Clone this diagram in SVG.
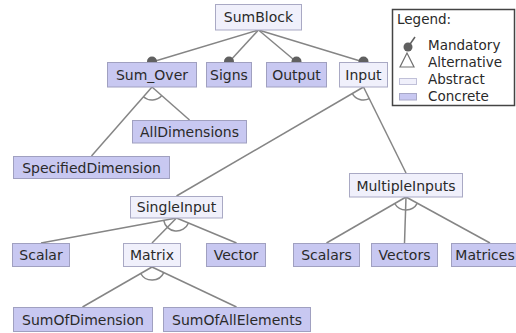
<svg xmlns="http://www.w3.org/2000/svg" width="516" height="333" viewBox="0 0 516 333">
<style>
  .abs rect{fill:#f0f0fb;stroke:#a9a9c4;stroke-width:1}
  .con rect{fill:#c8c8f1;stroke:#a0a0c0;stroke-width:1}
  text{font-family:"DejaVu Sans",Verdana,sans-serif;font-size:14px;fill:#2a2a2a;text-anchor:middle}
  .conn line,.conn path{stroke:#858585;stroke-width:1.5;fill:none}
  .dot{fill:#606060}
  .leg text{font-size:13.5px;text-anchor:start}
</style>
<rect width="516" height="333" fill="#ffffff"/>
<g class="conn" id="connectors">
  <line x1="258.5" y1="30" x2="152" y2="62"/>
  <line x1="258.5" y1="30" x2="229" y2="62"/>
  <line x1="258.5" y1="30" x2="296.5" y2="62"/>
  <line x1="258.5" y1="30" x2="363.5" y2="62"/>
  <circle class="dot" cx="152" cy="61.5" r="5"/>
  <circle class="dot" cx="229" cy="61.5" r="5"/>
  <circle class="dot" cx="296.5" cy="61.5" r="5"/>
  <circle class="dot" cx="363.5" cy="61.5" r="5"/>
  <line x1="152" y1="87" x2="91.5" y2="156"/>
  <line x1="152" y1="87" x2="189.5" y2="120"/>
  <path d="M143.4,96.8 A13,13 0 0 0 161.8,95.6"/>
  <line x1="363.5" y1="87" x2="176.5" y2="196"/>
  <line x1="363.5" y1="87" x2="406" y2="173"/>
  <path d="M352.3,93.6 A13,13 0 0 0 369.3,98.7"/>
  <line x1="176.5" y1="218" x2="41" y2="243"/>
  <line x1="176.5" y1="218" x2="152" y2="243"/>
  <line x1="176.5" y1="218" x2="236.5" y2="243"/>
  <path d="M163.7,220.4 A13,13 0 0 0 188.5,223"/>
  <line x1="406" y1="197" x2="326.5" y2="243"/>
  <line x1="406" y1="197" x2="404.5" y2="243"/>
  <line x1="406" y1="197" x2="490" y2="243"/>
  <path d="M394.7,203.5 A13,13 0 0 0 417.4,203.2"/>
  <line x1="152" y1="267" x2="82.5" y2="307"/>
  <line x1="152" y1="267" x2="236.5" y2="307"/>
  <path d="M140.7,273.5 A13,13 0 0 0 163.8,272.6"/>
</g>
<g id="SumBlock" class="abs"><rect x="215.5" y="4.5" width="86" height="25.5"/><text x="258.5" y="22">SumBlock</text></g>
<g id="Sum_Over" class="con"><rect x="107.5" y="62.5" width="89" height="24.5"/><text x="152" y="80">Sum_Over</text></g>
<g id="Signs" class="con"><rect x="206.5" y="62.5" width="45" height="24.5"/><text x="229" y="80">Signs</text></g>
<g id="Output" class="con"><rect x="266.5" y="62.5" width="60" height="24.5"/><text x="296.5" y="80">Output</text></g>
<g id="Input" class="abs"><rect x="339.5" y="62.5" width="48" height="24.5"/><text x="363.5" y="80">Input</text></g>
<g id="AllDimensions" class="con"><rect x="132.5" y="120.5" width="114" height="22.5"/><text x="189.5" y="137">AllDimensions</text></g>
<g id="SpecifiedDimension" class="con"><rect x="13.5" y="156.5" width="156" height="22"/><text x="91.5" y="172.5">SpecifiedDimension</text></g>
<g id="SingleInput" class="abs"><rect x="130.5" y="196.5" width="92" height="21.5"/><text x="176.5" y="212">SingleInput</text></g>
<g id="MultipleInputs" class="abs"><rect x="349.5" y="173.5" width="113" height="23.5"/><text x="406" y="190.5">MultipleInputs</text></g>
<g id="Scalar" class="con"><rect x="12.5" y="243.5" width="57" height="23"/><text x="41" y="260">Scalar</text></g>
<g id="Matrix" class="abs"><rect x="123.5" y="243.5" width="57" height="23"/><text x="152" y="260">Matrix</text></g>
<g id="Vector" class="con"><rect x="206.5" y="243.5" width="59" height="23"/><text x="236" y="260">Vector</text></g>
<g id="Scalars" class="con"><rect x="293.5" y="243.5" width="66" height="23"/><text x="326.5" y="260">Scalars</text></g>
<g id="Vectors" class="con"><rect x="371.5" y="243.5" width="66" height="23"/><text x="404.5" y="260">Vectors</text></g>
<g id="Matrices" class="con"><rect x="451.5" y="243.5" width="78" height="23"/><text x="485" y="260">Matrices</text></g>
<g id="SumOfDimension" class="con"><rect x="13.5" y="307.5" width="139" height="24"/><text x="83" y="324.5">SumOfDimension</text></g>
<g id="SumOfAllElements" class="con"><rect x="163.5" y="307.5" width="147" height="24"/><text x="237" y="324.5">SumOfAllElements</text></g>
<g id="legend" class="leg">
  <rect x="392.5" y="9.5" width="122" height="96" fill="#ffffff" stroke="#444" stroke-width="1.5"/>
  <text x="397" y="24">Legend:</text>
  <line x1="408" y1="47" x2="415" y2="37" stroke="#606060" stroke-width="1.5"/>
  <circle cx="408" cy="47" r="4.5" fill="#606060"/>
  <text x="428" y="50">Mandatory</text>
  <path d="M407,53 L400,67 L414,67 Z" fill="none" stroke="#707070" stroke-width="1.2"/>
  <text x="428" y="67">Alternative</text>
  <rect x="399.5" y="78.5" width="17" height="6" fill="#f0f0fb" stroke="#c0c0d8"/>
  <text x="428" y="83.5">Abstract</text>
  <rect x="399.5" y="93.5" width="17" height="6.5" fill="#c8c8f1" stroke="#a8a8c8"/>
  <text x="428" y="100.5">Concrete</text>
</g>
</svg>
